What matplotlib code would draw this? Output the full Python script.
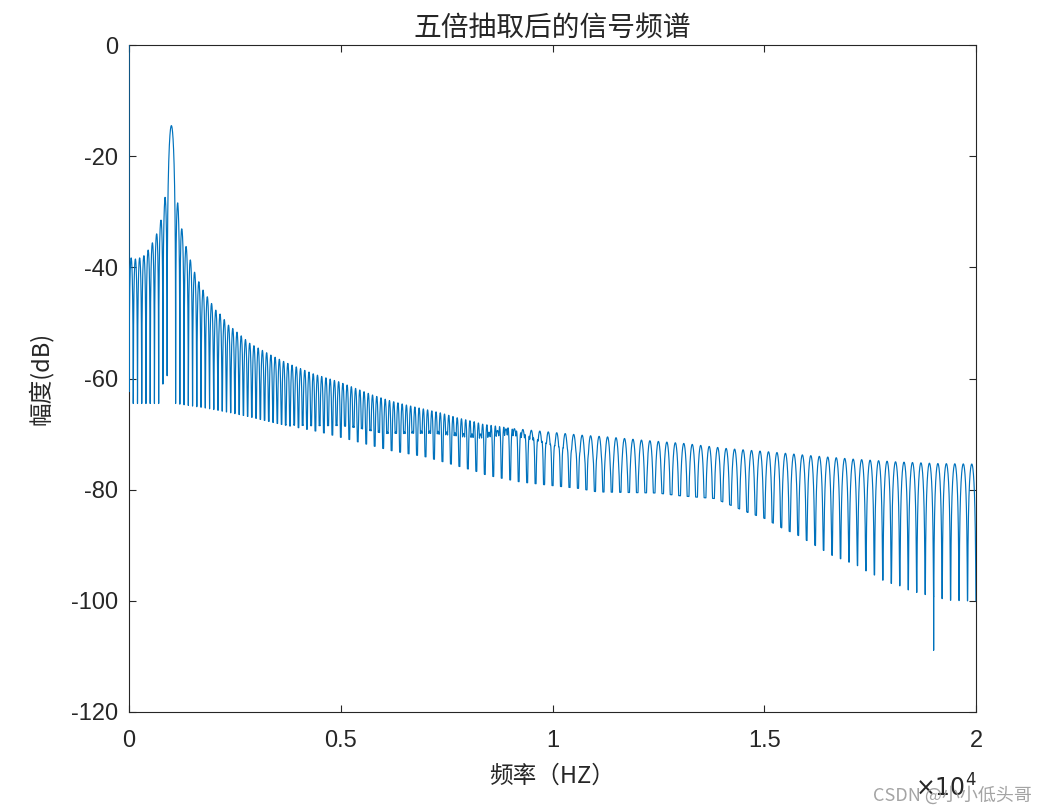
import numpy as np
import matplotlib
matplotlib.use('Agg')
import matplotlib.pyplot as plt

# ---------------- data ----------------
title_text = '五倍抽取后的信号频谱'
xlabel_text = '频率（HZ）'
ylabel_text = '幅度(dB)'
x_ticks = [0, 5000, 10000, 15000, 20000]
x_tick_labels = ['0', '0.5', '1', '1.5', '2']
y_ticks = [0, -20, -40, -60, -80, -100, -120]
y_tick_labels = ['0', '-20', '-40', '-60', '-80', '-100', '-120']

dc_level = 0.0          # dB at 0 Hz
tone_freq = 1000.0      # main spectral line (Hz)
tone_level = -14.5      # dB
lobe_spacing = 100.0    # Hz between side-lobe nulls

# upper envelope (lobe tops)
top_freq = [0, 50, 150, 250, 350, 450, 550, 650, 750, 850, 1150, 1250, 1350,
            1450, 1550, 1650, 1750, 1850, 1950, 2050, 2150, 2250, 2350, 2450,
            2857, 3353, 3754, 4368, 4959, 5360, 5761, 6163, 6564, 6966, 7367,
            7769, 8170, 8335, 9067, 9894, 10697, 11287, 12137, 13129, 14120,
            15136, 16128, 17096, 18135, 19103, 20000]
top_db = [-38.3, -38.3, -38.5, -38.3, -37.9, -36.9, -35.6, -34.0, -31.6, -27.4,
          -28.4, -33.2, -36.3, -38.7, -40.9, -42.6, -44.1, -45.3, -46.5, -47.7,
          -48.4, -49.4, -50.4, -51.0, -53.7, -55.8, -57.3, -59.2, -60.6, -61.8,
          -63.0, -64.0, -64.8, -65.5, -66.2, -67.1, -67.8, -68.2, -69.0, -69.6,
          -70.2, -70.5, -71.1, -71.7, -72.6, -73.2, -73.9, -74.5, -75.0, -75.3,
          -75.4]

# lower envelope (deep troughs)
floor_freq = [0, 700, 800, 900, 1100, 1800, 2432, 2857, 3565, 4510, 5218, 5407,
              6210, 7013, 7839, 8241, 8453, 9232, 10035, 10650, 11050, 12468,
              13011, 13837, 14239, 14616, 15018, 15419, 15797, 16198, 16600,
              17214, 17403, 17615, 17804, 18017, 18205, 18394, 18607, 19197,
              19386, 19787, 20000]
floor_db = [-64.5, -64.5, -61.0, -59.5, -64.5, -65.3, -66.2, -66.9, -68.2, -69.6,
            -71.0, -71.4, -73.0, -74.1, -75.9, -76.8, -77.4, -78.6, -79.3, -79.8,
            -80.4, -80.6, -81.1, -81.6, -82.9, -84.1, -85.2, -86.9, -88.2, -90.0,
            -91.8, -93.7, -94.6, -95.4, -96.3, -96.9, -97.3, -98.0, -98.5, -99.6,
            -99.9, -100.0, -100.0]

# how much the in-between nulls fill in (0 = full null, 1 = gone)
notch_freq = [0, 2500, 3000, 4500, 5400, 6000, 7000, 8200, 9000, 10000, 11000,
              12000, 13000, 14000, 20000]
notch_fill = [0.0, 0.0, 0.1, 0.18, 0.23, 0.25, 0.32, 0.39, 0.5, 0.65, 0.75,
              0.85, 0.95, 1.0, 1.0]

spike_freq = 19000
spike_db = -108.9

# ---------------- build the curve ----------------
f = np.arange(0, 20001, 2.0)
top = np.interp(f, top_freq, top_db)
flo = np.interp(f, floor_freq, floor_db)
m = np.interp(f, notch_freq, notch_fill)
u = np.abs(np.sin(np.pi * f / (2 * lobe_spacing)))
v = np.abs(np.cos(np.pi * f / (2 * lobe_spacing)))
shape = u * np.maximum(v, m) / np.maximum(0.5, m)
db = top + 20 * np.log10(np.maximum(shape, 1e-12))
main = np.abs(f - tone_freq) < lobe_spacing
db[main] = tone_level + 20 * np.log10(
    np.maximum(np.abs(np.sinc((f[main] - tone_freq) / lobe_spacing)), 1e-12))
db = np.maximum(db, flo)
db[0] = dc_level
db[np.argmin(np.abs(f - spike_freq))] = spike_db

# ---------------- plot ----------------
plt.rcParams['font.family'] = ['Liberation Sans', 'Noto Sans CJK SC', 'DejaVu Sans']
plt.rcParams['axes.unicode_minus'] = False
cjk = ['Noto Sans CJK SC', 'DejaVu Sans']

fig = plt.figure(figsize=(10.49, 8.10), dpi=100)
ax = fig.add_axes([0.123, 0.121, 0.8074, 0.8234])
ax.plot(f, db, color='#0072BD', lw=0.85, zorder=3)

ax.set_xlim(0, 20000)
ax.set_ylim(-120, 0)
ax.set_xticks(x_ticks)
ax.set_xticklabels(x_tick_labels)
ax.set_yticks(y_ticks)
ax.set_yticklabels(y_tick_labels)
ax.tick_params(direction='in', top=True, right=True, length=5, width=0.8,
               colors='#262626', labelsize=17)
ax.tick_params(axis='x', pad=13)
ax.tick_params(axis='y', pad=8)
for s in ax.spines.values():
    s.set_color('#262626')
    s.set_linewidth(0.8)

ax.set_title(title_text, family=cjk, fontsize=20, color='#262626', pad=7)
ax.set_xlabel(xlabel_text, family=cjk, fontsize=17, color='#262626', labelpad=9)
ax.set_ylabel(ylabel_text, family=cjk, fontsize=17, color='#262626', labelpad=13)

fig.text(0.872, 0.016, r'$\times10^{4}$', fontsize=17, color='#262626',
         ha='left', va='baseline')
fig.text(0.984, 0.012, 'CSDN @小小低头哥', family=cjk, fontsize=13,
         color='#9a9a9a', ha='right', va='baseline', alpha=0.9)

fig.savefig('out.png', dpi=100)
